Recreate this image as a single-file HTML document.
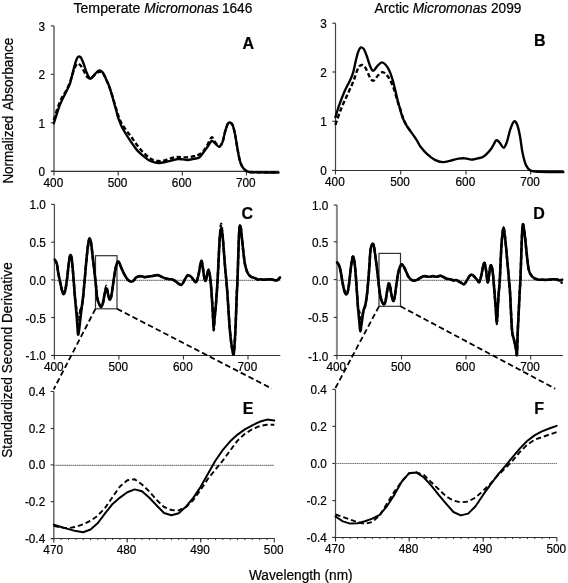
<!DOCTYPE html>
<html><head><meta charset="utf-8"><style>
html,body{margin:0;padding:0;background:#fff;}
svg{display:block;filter:grayscale(100%);}
text{font-family:"Liberation Sans", sans-serif;fill:#000;stroke:#000;stroke-width:0.2px;}
</style></head><body>
<svg width="568" height="583" viewBox="0 0 568 583">
<rect width="568" height="583" fill="#fff"/>
<line x1="54.0" y1="25.9" x2="54.0" y2="171.7" stroke="#8a8a8a" stroke-width="2"/>
<line x1="50.8" y1="25.9" x2="54.0" y2="25.9" stroke="#333" stroke-width="1.1" />
<text transform="translate(45.00,30.90) scale(1,1.1)" font-size="11.8" text-anchor="end" font-weight="normal" >3</text>
<line x1="50.8" y1="74.3" x2="54.0" y2="74.3" stroke="#333" stroke-width="1.1" />
<text transform="translate(45.00,79.30) scale(1,1.1)" font-size="11.8" text-anchor="end" font-weight="normal" >2</text>
<line x1="50.8" y1="122.7" x2="54.0" y2="122.7" stroke="#333" stroke-width="1.1" />
<text transform="translate(45.00,127.70) scale(1,1.1)" font-size="11.8" text-anchor="end" font-weight="normal" >1</text>
<line x1="50.8" y1="171.2" x2="54.0" y2="171.2" stroke="#333" stroke-width="1.1" />
<text transform="translate(45.00,176.20) scale(1,1.1)" font-size="11.8" text-anchor="end" font-weight="normal" >0</text>
<line x1="51.0" y1="171.4" x2="278.7" y2="171.4" stroke="#333" stroke-width="1.15" />
<line x1="54.0" y1="171.4" x2="54.0" y2="175.4" stroke="#333" stroke-width="1.1"/>
<text transform="translate(53.40,187.00) scale(1,1.1)" font-size="11.8" text-anchor="middle" font-weight="normal" >400</text>
<line x1="118.2" y1="171.4" x2="118.2" y2="175.4" stroke="#333" stroke-width="1.1"/>
<text transform="translate(117.60,187.00) scale(1,1.1)" font-size="11.8" text-anchor="middle" font-weight="normal" >500</text>
<line x1="182.3" y1="171.4" x2="182.3" y2="175.4" stroke="#333" stroke-width="1.1"/>
<text transform="translate(181.70,187.00) scale(1,1.1)" font-size="11.8" text-anchor="middle" font-weight="normal" >600</text>
<line x1="246.4" y1="171.4" x2="246.4" y2="175.4" stroke="#333" stroke-width="1.1"/>
<text transform="translate(245.80,187.00) scale(1,1.1)" font-size="11.8" text-anchor="middle" font-weight="normal" >700</text>
<line x1="335.5" y1="23.2" x2="335.5" y2="170.9" stroke="#444" stroke-width="1.2"/>
<line x1="332.3" y1="23.2" x2="335.5" y2="23.2" stroke="#333" stroke-width="1.1" />
<text transform="translate(326.90,28.20) scale(1,1.1)" font-size="11.8" text-anchor="end" font-weight="normal" >3</text>
<line x1="332.3" y1="72.0" x2="335.5" y2="72.0" stroke="#333" stroke-width="1.1" />
<text transform="translate(326.90,77.00) scale(1,1.1)" font-size="11.8" text-anchor="end" font-weight="normal" >2</text>
<line x1="332.3" y1="121.3" x2="335.5" y2="121.3" stroke="#333" stroke-width="1.1" />
<text transform="translate(326.90,126.30) scale(1,1.1)" font-size="11.8" text-anchor="end" font-weight="normal" >1</text>
<line x1="332.3" y1="170.4" x2="335.5" y2="170.4" stroke="#333" stroke-width="1.1" />
<text transform="translate(326.90,175.40) scale(1,1.1)" font-size="11.8" text-anchor="end" font-weight="normal" >0</text>
<line x1="332.5" y1="170.45" x2="563.6" y2="170.45" stroke="#333" stroke-width="1.15" />
<line x1="335.5" y1="170.45" x2="335.5" y2="174.45" stroke="#333" stroke-width="1.1"/>
<text transform="translate(334.90,186.20) scale(1,1.1)" font-size="11.8" text-anchor="middle" font-weight="normal" >400</text>
<line x1="400.7" y1="170.45" x2="400.7" y2="174.45" stroke="#333" stroke-width="1.1"/>
<text transform="translate(400.10,186.20) scale(1,1.1)" font-size="11.8" text-anchor="middle" font-weight="normal" >500</text>
<line x1="466.0" y1="170.45" x2="466.0" y2="174.45" stroke="#333" stroke-width="1.1"/>
<text transform="translate(465.40,186.20) scale(1,1.1)" font-size="11.8" text-anchor="middle" font-weight="normal" >600</text>
<line x1="530.7" y1="170.45" x2="530.7" y2="174.45" stroke="#333" stroke-width="1.1"/>
<text transform="translate(530.10,186.20) scale(1,1.1)" font-size="11.8" text-anchor="middle" font-weight="normal" >700</text>
<line x1="54.4" y1="204.4" x2="54.4" y2="355.9" stroke="#505050" stroke-width="1.3"/>
<line x1="51.199999999999996" y1="204.4" x2="54.4" y2="204.4" stroke="#333" stroke-width="1.1" />
<text transform="translate(45.80,209.40) scale(1,1.1)" font-size="11.8" text-anchor="end" font-weight="normal" >1.0</text>
<line x1="51.199999999999996" y1="242.2" x2="54.4" y2="242.2" stroke="#333" stroke-width="1.1" />
<text transform="translate(45.80,247.20) scale(1,1.1)" font-size="11.8" text-anchor="end" font-weight="normal" >0.5</text>
<line x1="51.199999999999996" y1="279.9" x2="54.4" y2="279.9" stroke="#333" stroke-width="1.1" />
<text transform="translate(45.80,284.90) scale(1,1.1)" font-size="11.8" text-anchor="end" font-weight="normal" >0.0</text>
<line x1="51.199999999999996" y1="317.5" x2="54.4" y2="317.5" stroke="#333" stroke-width="1.1" />
<text transform="translate(45.80,322.50) scale(1,1.1)" font-size="11.8" text-anchor="end" font-weight="normal" >-0.5</text>
<line x1="51.199999999999996" y1="355.4" x2="54.4" y2="355.4" stroke="#333" stroke-width="1.1" />
<text transform="translate(45.80,360.40) scale(1,1.1)" font-size="11.8" text-anchor="end" font-weight="normal" >-1.0</text>
<line x1="51.4" y1="355.5" x2="280.3" y2="355.5" stroke="#333" stroke-width="1.15" />
<line x1="54.4" y1="355.5" x2="54.4" y2="359.5" stroke="#333" stroke-width="1.1"/>
<text transform="translate(53.80,371.30) scale(1,1.1)" font-size="11.8" text-anchor="middle" font-weight="normal" >400</text>
<line x1="118.9" y1="355.5" x2="118.9" y2="359.5" stroke="#333" stroke-width="1.1"/>
<text transform="translate(118.30,371.30) scale(1,1.1)" font-size="11.8" text-anchor="middle" font-weight="normal" >500</text>
<line x1="183.5" y1="355.5" x2="183.5" y2="359.5" stroke="#333" stroke-width="1.1"/>
<text transform="translate(182.90,371.30) scale(1,1.1)" font-size="11.8" text-anchor="middle" font-weight="normal" >600</text>
<line x1="248.0" y1="355.5" x2="248.0" y2="359.5" stroke="#333" stroke-width="1.1"/>
<text transform="translate(247.40,371.30) scale(1,1.1)" font-size="11.8" text-anchor="middle" font-weight="normal" >700</text>
<line x1="54.4" y1="280.4" x2="280.3" y2="280.4" stroke="#7a7a7a" stroke-width="1.1" stroke-dasharray="1.6 0.5"/>
<line x1="336.9" y1="205.0" x2="336.9" y2="356.0" stroke="#888" stroke-width="2"/>
<line x1="333.7" y1="205.0" x2="336.9" y2="205.0" stroke="#333" stroke-width="1.1" />
<text transform="translate(328.30,210.00) scale(1,1.1)" font-size="11.8" text-anchor="end" font-weight="normal" >1.0</text>
<line x1="333.7" y1="241.8" x2="336.9" y2="241.8" stroke="#333" stroke-width="1.1" />
<text transform="translate(328.30,246.80) scale(1,1.1)" font-size="11.8" text-anchor="end" font-weight="normal" >0.5</text>
<line x1="333.7" y1="279.6" x2="336.9" y2="279.6" stroke="#333" stroke-width="1.1" />
<text transform="translate(328.30,284.60) scale(1,1.1)" font-size="11.8" text-anchor="end" font-weight="normal" >0.0</text>
<line x1="333.7" y1="317.4" x2="336.9" y2="317.4" stroke="#333" stroke-width="1.1" />
<text transform="translate(328.30,322.40) scale(1,1.1)" font-size="11.8" text-anchor="end" font-weight="normal" >-0.5</text>
<line x1="333.7" y1="355.5" x2="336.9" y2="355.5" stroke="#333" stroke-width="1.1" />
<text transform="translate(328.30,360.50) scale(1,1.1)" font-size="11.8" text-anchor="end" font-weight="normal" >-1.0</text>
<line x1="333.9" y1="355.5" x2="563.0" y2="355.5" stroke="#333" stroke-width="1.15" />
<line x1="336.9" y1="355.5" x2="336.9" y2="359.5" stroke="#333" stroke-width="1.1"/>
<text transform="translate(336.30,371.30) scale(1,1.1)" font-size="11.8" text-anchor="middle" font-weight="normal" >400</text>
<line x1="401.5" y1="355.5" x2="401.5" y2="359.5" stroke="#333" stroke-width="1.1"/>
<text transform="translate(400.90,371.30) scale(1,1.1)" font-size="11.8" text-anchor="middle" font-weight="normal" >500</text>
<line x1="466.0" y1="355.5" x2="466.0" y2="359.5" stroke="#333" stroke-width="1.1"/>
<text transform="translate(465.40,371.30) scale(1,1.1)" font-size="11.8" text-anchor="middle" font-weight="normal" >600</text>
<line x1="530.7" y1="355.5" x2="530.7" y2="359.5" stroke="#333" stroke-width="1.1"/>
<text transform="translate(530.10,371.30) scale(1,1.1)" font-size="11.8" text-anchor="middle" font-weight="normal" >700</text>
<line x1="336.9" y1="280.4" x2="563.0" y2="280.4" stroke="#7a7a7a" stroke-width="1.1" stroke-dasharray="1.6 0.5"/>
<line x1="53.8" y1="391.5" x2="53.8" y2="539.2" stroke="#666" stroke-width="1.5"/>
<line x1="50.599999999999994" y1="391.5" x2="53.8" y2="391.5" stroke="#333" stroke-width="1.1" />
<text transform="translate(45.20,395.80) scale(1,1.1)" font-size="11.8" text-anchor="end" font-weight="normal" >0.4</text>
<line x1="50.599999999999994" y1="428.5" x2="53.8" y2="428.5" stroke="#333" stroke-width="1.1" />
<text transform="translate(45.20,432.80) scale(1,1.1)" font-size="11.8" text-anchor="end" font-weight="normal" >0.2</text>
<line x1="50.599999999999994" y1="464.9" x2="53.8" y2="464.9" stroke="#333" stroke-width="1.1" />
<text transform="translate(45.20,469.20) scale(1,1.1)" font-size="11.8" text-anchor="end" font-weight="normal" >0.0</text>
<line x1="50.599999999999994" y1="501.7" x2="53.8" y2="501.7" stroke="#333" stroke-width="1.1" />
<text transform="translate(45.20,506.00) scale(1,1.1)" font-size="11.8" text-anchor="end" font-weight="normal" >-0.2</text>
<line x1="50.599999999999994" y1="538.7" x2="53.8" y2="538.7" stroke="#333" stroke-width="1.1" />
<text transform="translate(45.20,543.00) scale(1,1.1)" font-size="11.8" text-anchor="end" font-weight="normal" >-0.4</text>
<line x1="51" y1="538.5" x2="274.5" y2="538.5" stroke="#333" stroke-width="1.15" />
<line x1="53.8" y1="538.5" x2="53.8" y2="542.5" stroke="#333" stroke-width="1.1"/>
<text transform="translate(53.20,554.20) scale(1,1.1)" font-size="11.8" text-anchor="middle" font-weight="normal" >470</text>
<line x1="127.2" y1="538.5" x2="127.2" y2="542.5" stroke="#333" stroke-width="1.1"/>
<text transform="translate(126.60,554.20) scale(1,1.1)" font-size="11.8" text-anchor="middle" font-weight="normal" >480</text>
<line x1="200.7" y1="538.5" x2="200.7" y2="542.5" stroke="#333" stroke-width="1.1"/>
<text transform="translate(200.10,554.20) scale(1,1.1)" font-size="11.8" text-anchor="middle" font-weight="normal" >490</text>
<line x1="274.3" y1="538.5" x2="274.3" y2="542.5" stroke="#333" stroke-width="1.1"/>
<text transform="translate(273.70,554.20) scale(1,1.1)" font-size="11.8" text-anchor="middle" font-weight="normal" >500</text>
<line x1="61.15" y1="538.5" x2="61.15" y2="540.1" stroke="#333" stroke-width="1"/>
<line x1="68.50" y1="538.5" x2="68.50" y2="540.1" stroke="#333" stroke-width="1"/>
<line x1="75.85" y1="538.5" x2="75.85" y2="540.1" stroke="#333" stroke-width="1"/>
<line x1="83.20" y1="538.5" x2="83.20" y2="540.1" stroke="#333" stroke-width="1"/>
<line x1="90.55" y1="538.5" x2="90.55" y2="540.1" stroke="#333" stroke-width="1"/>
<line x1="97.90" y1="538.5" x2="97.90" y2="540.1" stroke="#333" stroke-width="1"/>
<line x1="105.25" y1="538.5" x2="105.25" y2="540.1" stroke="#333" stroke-width="1"/>
<line x1="112.60" y1="538.5" x2="112.60" y2="540.1" stroke="#333" stroke-width="1"/>
<line x1="119.95" y1="538.5" x2="119.95" y2="540.1" stroke="#333" stroke-width="1"/>
<line x1="127.30" y1="538.5" x2="127.30" y2="540.1" stroke="#333" stroke-width="1"/>
<line x1="134.65" y1="538.5" x2="134.65" y2="540.1" stroke="#333" stroke-width="1"/>
<line x1="142.00" y1="538.5" x2="142.00" y2="540.1" stroke="#333" stroke-width="1"/>
<line x1="149.35" y1="538.5" x2="149.35" y2="540.1" stroke="#333" stroke-width="1"/>
<line x1="156.70" y1="538.5" x2="156.70" y2="540.1" stroke="#333" stroke-width="1"/>
<line x1="164.05" y1="538.5" x2="164.05" y2="540.1" stroke="#333" stroke-width="1"/>
<line x1="171.40" y1="538.5" x2="171.40" y2="540.1" stroke="#333" stroke-width="1"/>
<line x1="178.75" y1="538.5" x2="178.75" y2="540.1" stroke="#333" stroke-width="1"/>
<line x1="186.10" y1="538.5" x2="186.10" y2="540.1" stroke="#333" stroke-width="1"/>
<line x1="193.45" y1="538.5" x2="193.45" y2="540.1" stroke="#333" stroke-width="1"/>
<line x1="200.80" y1="538.5" x2="200.80" y2="540.1" stroke="#333" stroke-width="1"/>
<line x1="208.15" y1="538.5" x2="208.15" y2="540.1" stroke="#333" stroke-width="1"/>
<line x1="215.50" y1="538.5" x2="215.50" y2="540.1" stroke="#333" stroke-width="1"/>
<line x1="222.85" y1="538.5" x2="222.85" y2="540.1" stroke="#333" stroke-width="1"/>
<line x1="230.20" y1="538.5" x2="230.20" y2="540.1" stroke="#333" stroke-width="1"/>
<line x1="237.55" y1="538.5" x2="237.55" y2="540.1" stroke="#333" stroke-width="1"/>
<line x1="244.90" y1="538.5" x2="244.90" y2="540.1" stroke="#333" stroke-width="1"/>
<line x1="252.25" y1="538.5" x2="252.25" y2="540.1" stroke="#333" stroke-width="1"/>
<line x1="259.60" y1="538.5" x2="259.60" y2="540.1" stroke="#333" stroke-width="1"/>
<line x1="266.95" y1="538.5" x2="266.95" y2="540.1" stroke="#333" stroke-width="1"/>
<line x1="53.8" y1="465.4" x2="274.3" y2="465.4" stroke="#7a7a7a" stroke-width="1.1" stroke-dasharray="1.6 0.5"/>
<line x1="335.5" y1="389.4" x2="335.5" y2="537.9" stroke="#4a4a4a" stroke-width="1.2"/>
<line x1="332.3" y1="389.4" x2="335.5" y2="389.4" stroke="#333" stroke-width="1.1" />
<text transform="translate(326.90,393.70) scale(1,1.1)" font-size="11.8" text-anchor="end" font-weight="normal" >0.4</text>
<line x1="332.3" y1="426.3" x2="335.5" y2="426.3" stroke="#333" stroke-width="1.1" />
<text transform="translate(326.90,430.60) scale(1,1.1)" font-size="11.8" text-anchor="end" font-weight="normal" >0.2</text>
<line x1="332.3" y1="463.5" x2="335.5" y2="463.5" stroke="#333" stroke-width="1.1" />
<text transform="translate(326.90,467.80) scale(1,1.1)" font-size="11.8" text-anchor="end" font-weight="normal" >0.0</text>
<line x1="332.3" y1="500.6" x2="335.5" y2="500.6" stroke="#333" stroke-width="1.1" />
<text transform="translate(326.90,504.90) scale(1,1.1)" font-size="11.8" text-anchor="end" font-weight="normal" >-0.2</text>
<line x1="332.3" y1="537.4" x2="335.5" y2="537.4" stroke="#333" stroke-width="1.1" />
<text transform="translate(326.90,541.70) scale(1,1.1)" font-size="11.8" text-anchor="end" font-weight="normal" >-0.4</text>
<line x1="332.5" y1="537.5" x2="557.0" y2="537.5" stroke="#333" stroke-width="1.15" />
<line x1="335.5" y1="537.5" x2="335.5" y2="541.5" stroke="#333" stroke-width="1.1"/>
<text transform="translate(334.90,553.20) scale(1,1.1)" font-size="11.8" text-anchor="middle" font-weight="normal" >470</text>
<line x1="409.2" y1="537.5" x2="409.2" y2="541.5" stroke="#333" stroke-width="1.1"/>
<text transform="translate(408.60,553.20) scale(1,1.1)" font-size="11.8" text-anchor="middle" font-weight="normal" >480</text>
<line x1="483.2" y1="537.5" x2="483.2" y2="541.5" stroke="#333" stroke-width="1.1"/>
<text transform="translate(482.60,553.20) scale(1,1.1)" font-size="11.8" text-anchor="middle" font-weight="normal" >490</text>
<line x1="556.9" y1="537.5" x2="556.9" y2="541.5" stroke="#333" stroke-width="1.1"/>
<text transform="translate(556.30,553.20) scale(1,1.1)" font-size="11.8" text-anchor="middle" font-weight="normal" >500</text>
<line x1="342.88" y1="537.5" x2="342.88" y2="539.1" stroke="#333" stroke-width="1"/>
<line x1="350.26" y1="537.5" x2="350.26" y2="539.1" stroke="#333" stroke-width="1"/>
<line x1="357.64" y1="537.5" x2="357.64" y2="539.1" stroke="#333" stroke-width="1"/>
<line x1="365.02" y1="537.5" x2="365.02" y2="539.1" stroke="#333" stroke-width="1"/>
<line x1="372.40" y1="537.5" x2="372.40" y2="539.1" stroke="#333" stroke-width="1"/>
<line x1="379.78" y1="537.5" x2="379.78" y2="539.1" stroke="#333" stroke-width="1"/>
<line x1="387.16" y1="537.5" x2="387.16" y2="539.1" stroke="#333" stroke-width="1"/>
<line x1="394.54" y1="537.5" x2="394.54" y2="539.1" stroke="#333" stroke-width="1"/>
<line x1="401.92" y1="537.5" x2="401.92" y2="539.1" stroke="#333" stroke-width="1"/>
<line x1="409.30" y1="537.5" x2="409.30" y2="539.1" stroke="#333" stroke-width="1"/>
<line x1="416.68" y1="537.5" x2="416.68" y2="539.1" stroke="#333" stroke-width="1"/>
<line x1="424.06" y1="537.5" x2="424.06" y2="539.1" stroke="#333" stroke-width="1"/>
<line x1="431.44" y1="537.5" x2="431.44" y2="539.1" stroke="#333" stroke-width="1"/>
<line x1="438.82" y1="537.5" x2="438.82" y2="539.1" stroke="#333" stroke-width="1"/>
<line x1="446.20" y1="537.5" x2="446.20" y2="539.1" stroke="#333" stroke-width="1"/>
<line x1="453.58" y1="537.5" x2="453.58" y2="539.1" stroke="#333" stroke-width="1"/>
<line x1="460.96" y1="537.5" x2="460.96" y2="539.1" stroke="#333" stroke-width="1"/>
<line x1="468.34" y1="537.5" x2="468.34" y2="539.1" stroke="#333" stroke-width="1"/>
<line x1="475.72" y1="537.5" x2="475.72" y2="539.1" stroke="#333" stroke-width="1"/>
<line x1="483.10" y1="537.5" x2="483.10" y2="539.1" stroke="#333" stroke-width="1"/>
<line x1="490.48" y1="537.5" x2="490.48" y2="539.1" stroke="#333" stroke-width="1"/>
<line x1="497.86" y1="537.5" x2="497.86" y2="539.1" stroke="#333" stroke-width="1"/>
<line x1="505.24" y1="537.5" x2="505.24" y2="539.1" stroke="#333" stroke-width="1"/>
<line x1="512.62" y1="537.5" x2="512.62" y2="539.1" stroke="#333" stroke-width="1"/>
<line x1="520.00" y1="537.5" x2="520.00" y2="539.1" stroke="#333" stroke-width="1"/>
<line x1="527.38" y1="537.5" x2="527.38" y2="539.1" stroke="#333" stroke-width="1"/>
<line x1="534.76" y1="537.5" x2="534.76" y2="539.1" stroke="#333" stroke-width="1"/>
<line x1="542.14" y1="537.5" x2="542.14" y2="539.1" stroke="#333" stroke-width="1"/>
<line x1="549.52" y1="537.5" x2="549.52" y2="539.1" stroke="#333" stroke-width="1"/>
<line x1="335.5" y1="463.5" x2="557.0" y2="463.5" stroke="#7a7a7a" stroke-width="1.1" stroke-dasharray="1.6 0.5"/>
<rect x="95.5" y="255.7" width="21.5" height="53.1" fill="none" stroke="#333" stroke-width="1.2"/>
<rect x="379.0" y="253.4" width="21.5" height="52.9" fill="none" stroke="#333" stroke-width="1.2"/>
<line x1="95.5" y1="308.8" x2="53.7" y2="389.3" stroke="#000" stroke-width="1.8" stroke-dasharray="5.6 3.1" fill="none"/>
<line x1="117" y1="308.8" x2="271.8" y2="388.6" stroke="#000" stroke-width="1.8" stroke-dasharray="5.6 3.1" fill="none"/>
<line x1="379.0" y1="306.3" x2="335.2" y2="388.4" stroke="#000" stroke-width="1.8" stroke-dasharray="5.6 3.1" fill="none"/>
<line x1="400.5" y1="306.3" x2="555.2" y2="388.7" stroke="#000" stroke-width="1.8" stroke-dasharray="5.6 3.1" fill="none"/>
<path d="M53.80,120.00 C54.08,119.08 54.77,116.80 55.50,114.50 C56.23,112.20 57.17,108.95 58.20,106.20 C59.23,103.45 60.55,100.28 61.70,98.00 C62.85,95.72 63.85,94.78 65.10,92.50 C66.35,90.22 68.07,87.03 69.20,84.30 C70.33,81.57 70.98,78.85 71.90,76.10 C72.82,73.35 73.78,69.87 74.70,67.80 C75.62,65.73 76.60,64.27 77.40,63.70 C78.20,63.13 78.70,63.72 79.50,64.40 C80.30,65.08 81.28,66.32 82.20,67.80 C83.12,69.28 84.08,71.70 85.00,73.30 C85.92,74.90 86.73,76.57 87.70,77.40 C88.67,78.23 89.57,78.78 90.80,78.30 C92.03,77.82 93.68,75.58 95.10,74.50 C96.52,73.42 98.02,72.02 99.30,71.80 C100.58,71.58 101.63,71.92 102.80,73.20 C103.97,74.48 104.97,76.53 106.30,79.50 C107.63,82.47 109.37,86.83 110.80,91.00 C112.23,95.17 113.77,100.75 114.90,104.50 C116.03,108.25 116.63,110.65 117.60,113.50 C118.57,116.35 119.37,118.93 120.70,121.60 C122.03,124.27 123.83,126.93 125.60,129.50 C127.37,132.07 129.47,134.50 131.30,137.00 C133.13,139.50 134.77,142.08 136.60,144.50 C138.43,146.92 140.32,149.37 142.30,151.50 C144.28,153.63 146.73,155.90 148.50,157.30 C150.27,158.70 151.30,159.28 152.90,159.90 C154.50,160.52 156.35,160.85 158.10,161.00 C159.85,161.15 161.42,161.22 163.40,160.80 C165.38,160.38 167.80,159.15 170.00,158.50 C172.20,157.85 174.18,157.08 176.60,156.90 C179.02,156.72 181.60,157.50 184.50,157.40 C187.40,157.30 191.63,156.75 194.00,156.30 C196.37,155.85 197.13,155.58 198.70,154.70 C200.27,153.82 201.92,152.70 203.40,151.00 C204.88,149.30 206.22,146.78 207.60,144.50 C208.98,142.22 210.45,137.68 211.70,137.30 C212.95,136.92 213.83,140.70 215.10,142.20 C216.37,143.70 218.05,146.37 219.30,146.30 C220.55,146.23 221.63,144.23 222.60,141.80 C223.57,139.37 224.27,134.63 225.10,131.70 C225.93,128.77 226.85,125.73 227.60,124.20 C228.35,122.67 228.77,122.37 229.60,122.50 C230.43,122.63 231.67,122.90 232.60,125.00 C233.53,127.10 234.35,130.92 235.20,135.10 C236.05,139.28 236.87,145.65 237.70,150.10 C238.53,154.55 239.23,158.73 240.20,161.80 C241.17,164.87 242.12,166.85 243.50,168.50 C244.88,170.15 246.27,171.08 248.50,171.70 C250.73,172.32 251.88,172.10 256.90,172.20 C261.92,172.30 274.98,172.28 278.60,172.30" fill="none" stroke="#000" stroke-width="2.4" stroke-dasharray="4.5 2.5" stroke-linejoin="round"/>
<path d="M53.80,123.40 C54.20,122.13 55.35,118.43 56.20,115.80 C57.05,113.17 57.98,110.10 58.90,107.60 C59.82,105.10 60.67,103.08 61.70,100.80 C62.73,98.52 63.97,96.20 65.10,93.90 C66.23,91.60 67.58,89.05 68.50,87.00 C69.42,84.95 69.92,83.88 70.60,81.60 C71.28,79.32 71.92,76.05 72.60,73.30 C73.28,70.55 74.02,67.50 74.70,65.10 C75.38,62.70 76.07,60.32 76.70,58.90 C77.33,57.48 77.80,56.83 78.50,56.60 C79.20,56.37 80.05,56.32 80.90,57.50 C81.75,58.68 82.68,61.30 83.60,63.70 C84.52,66.10 85.48,69.62 86.40,71.90 C87.32,74.18 88.33,76.28 89.10,77.40 C89.87,78.52 90.00,79.18 91.00,78.60 C92.00,78.02 93.72,75.27 95.10,73.90 C96.48,72.53 98.02,70.63 99.30,70.40 C100.58,70.17 101.65,70.98 102.80,72.50 C103.95,74.02 105.22,77.40 106.20,79.50 C107.18,81.60 107.93,83.13 108.70,85.10 C109.47,87.07 110.10,89.07 110.80,91.30 C111.50,93.53 112.22,96.10 112.90,98.50 C113.58,100.90 114.30,103.55 114.90,105.70 C115.50,107.85 116.05,109.70 116.50,111.40 C116.95,113.10 117.12,114.27 117.60,115.90 C118.08,117.53 118.67,119.30 119.40,121.20 C120.13,123.10 120.97,125.25 122.00,127.30 C123.03,129.35 124.35,131.45 125.60,133.50 C126.85,135.55 128.18,137.62 129.50,139.60 C130.82,141.58 132.10,143.48 133.50,145.40 C134.90,147.32 136.28,149.35 137.90,151.10 C139.52,152.85 141.43,154.43 143.20,155.90 C144.97,157.37 146.75,158.87 148.50,159.90 C150.25,160.93 151.95,161.58 153.70,162.10 C155.45,162.62 157.12,163.00 159.00,163.00 C160.88,163.00 162.60,162.60 165.00,162.10 C167.40,161.60 171.22,160.52 173.40,160.00 C175.58,159.48 176.52,159.10 178.10,159.00 C179.68,158.90 181.30,159.23 182.90,159.40 C184.50,159.57 185.85,160.10 187.70,160.00 C189.55,159.90 192.08,159.22 194.00,158.80 C195.92,158.38 197.63,158.53 199.20,157.50 C200.77,156.47 202.00,154.38 203.40,152.60 C204.80,150.82 206.22,148.75 207.60,146.80 C208.98,144.85 210.45,141.47 211.70,140.90 C212.95,140.33 213.83,142.42 215.10,143.40 C216.37,144.38 218.05,147.07 219.30,146.80 C220.55,146.53 221.63,144.32 222.60,141.80 C223.57,139.28 224.27,134.63 225.10,131.70 C225.93,128.77 226.85,125.73 227.60,124.20 C228.35,122.67 228.77,122.37 229.60,122.50 C230.43,122.63 231.67,122.90 232.60,125.00 C233.53,127.10 234.35,130.92 235.20,135.10 C236.05,139.28 236.87,145.65 237.70,150.10 C238.53,154.55 239.23,158.73 240.20,161.80 C241.17,164.87 242.12,166.82 243.50,168.50 C244.88,170.18 246.27,171.25 248.50,171.90 C250.73,172.55 251.88,172.28 256.90,172.40 C261.92,172.52 274.98,172.57 278.60,172.60" fill="none" stroke="#000" stroke-width="2.35" stroke-linejoin="round" stroke-linecap="round"/>
<path d="M335.40,124.90 C336.30,122.33 338.87,114.38 340.80,109.50 C342.73,104.62 344.93,100.23 347.00,95.60 C349.07,90.97 351.53,85.82 353.20,81.70 C354.87,77.58 355.98,73.47 357.00,70.90 C358.02,68.33 358.40,67.28 359.30,66.30 C360.20,65.32 361.37,64.75 362.40,65.00 C363.43,65.25 364.33,65.92 365.50,67.80 C366.67,69.68 368.12,74.12 369.40,76.30 C370.68,78.48 371.78,81.03 373.20,80.90 C374.62,80.77 376.35,76.97 377.90,75.50 C379.45,74.03 381.08,72.23 382.50,72.10 C383.92,71.97 385.12,73.35 386.40,74.70 C387.68,76.05 388.92,77.75 390.20,80.20 C391.48,82.65 392.93,86.07 394.10,89.40 C395.27,92.73 396.17,96.85 397.20,100.20 C398.23,103.55 399.42,106.78 400.30,109.50 C401.18,112.22 401.78,114.45 402.50,116.50 C403.22,118.55 403.78,120.08 404.60,121.80 C405.42,123.52 406.37,125.17 407.40,126.80 C408.43,128.43 410.23,130.80 410.80,131.60" fill="none" stroke="#000" stroke-width="2.4" stroke-dasharray="4.5 2.5" stroke-linejoin="round"/>
<path d="M335.40,117.20 C336.05,115.15 337.75,109.27 339.30,104.90 C340.85,100.53 342.90,95.12 344.70,91.00 C346.50,86.88 348.68,83.30 350.10,80.20 C351.52,77.10 352.17,76.02 353.20,72.40 C354.23,68.78 355.40,62.10 356.30,58.50 C357.20,54.90 357.83,52.65 358.60,50.80 C359.37,48.95 360.00,47.65 360.90,47.40 C361.80,47.15 362.97,47.70 364.00,49.30 C365.03,50.90 366.07,54.17 367.10,57.00 C368.13,59.83 369.18,63.98 370.20,66.30 C371.22,68.62 372.05,70.90 373.20,70.90 C374.35,70.90 375.68,67.72 377.10,66.30 C378.52,64.88 380.28,62.67 381.70,62.40 C383.12,62.13 384.30,63.28 385.60,64.70 C386.90,66.12 388.32,68.35 389.50,70.90 C390.68,73.45 391.73,76.77 392.70,80.00 C393.67,83.23 394.47,86.87 395.30,90.30 C396.13,93.73 397.00,97.83 397.70,100.60 C398.40,103.37 398.98,105.05 399.50,106.90 C400.02,108.75 400.30,109.98 400.80,111.70 C401.30,113.42 401.87,115.48 402.50,117.20 C403.13,118.92 403.78,120.40 404.60,122.00 C405.42,123.60 406.37,125.20 407.40,126.80 C408.43,128.40 409.67,130.00 410.80,131.60 C411.93,133.20 413.13,134.83 414.20,136.40 C415.27,137.97 416.13,139.27 417.20,141.00 C418.27,142.73 418.98,144.65 420.60,146.80 C422.22,148.95 424.52,151.72 426.90,153.90 C429.28,156.08 432.25,158.53 434.90,159.90 C437.55,161.27 440.17,161.97 442.80,162.10 C445.43,162.23 448.07,161.28 450.70,160.70 C453.33,160.12 456.22,159.00 458.60,158.60 C460.98,158.20 462.88,158.13 465.00,158.30 C467.12,158.47 469.18,159.60 471.30,159.60 C473.42,159.60 475.85,158.68 477.70,158.30 C479.55,157.92 480.93,157.98 482.40,157.30 C483.87,156.62 485.00,155.67 486.50,154.20 C488.00,152.73 489.77,150.82 491.40,148.50 C493.03,146.18 494.93,141.27 496.30,140.30 C497.67,139.33 498.37,141.47 499.60,142.70 C500.83,143.93 502.48,147.83 503.70,147.70 C504.92,147.57 505.82,144.92 506.90,141.90 C507.98,138.88 509.02,133.00 510.20,129.60 C511.38,126.20 512.83,122.32 514.00,121.50 C515.17,120.68 516.20,122.25 517.20,124.70 C518.20,127.15 519.12,131.55 520.00,136.20 C520.88,140.85 521.53,147.83 522.50,152.60 C523.47,157.37 524.43,161.80 525.80,164.80 C527.17,167.80 528.25,169.42 530.70,170.60 C533.15,171.78 535.05,171.63 540.50,171.90 C545.95,172.17 559.58,172.15 563.40,172.20" fill="none" stroke="#000" stroke-width="2.35" stroke-linejoin="round" stroke-linecap="round"/>
<path d="M54.80,259.70 C55.15,260.42 56.33,261.85 56.90,264.00 C57.47,266.15 57.63,269.45 58.20,272.60 C58.77,275.75 59.62,279.75 60.30,282.90 C60.98,286.05 61.73,289.65 62.30,291.50 C62.87,293.35 63.18,294.30 63.70,294.00 C64.22,293.70 64.82,292.42 65.40,289.70 C65.98,286.98 66.62,282.27 67.20,277.70 C67.78,273.13 68.40,266.02 68.90,262.30 C69.40,258.58 69.75,256.12 70.20,255.40 C70.65,254.68 71.10,254.85 71.60,258.00 C72.10,261.15 72.65,267.87 73.20,274.30 C73.75,280.73 74.37,290.82 74.90,296.60 C75.43,302.38 75.95,305.52 76.40,309.00 C76.85,312.48 77.22,315.75 77.60,317.50 C77.98,319.25 78.35,319.92 78.70,319.50 C79.05,319.08 79.35,317.08 79.70,315.00 C80.05,312.92 80.50,308.00 80.80,307.00 C81.10,306.00 81.10,310.83 81.50,309.00 C81.90,307.17 82.62,301.50 83.20,296.00 C83.78,290.50 84.40,282.67 85.00,276.00 C85.60,269.33 86.25,261.42 86.80,256.00 C87.35,250.58 87.87,246.42 88.30,243.50 C88.73,240.58 88.95,238.67 89.40,238.50 C89.85,238.33 90.42,239.17 91.00,242.50 C91.58,245.83 92.32,253.53 92.90,258.50 C93.48,263.47 93.97,267.58 94.50,272.30 C95.03,277.02 95.65,282.53 96.10,286.80 C96.55,291.07 96.73,295.12 97.20,297.90 C97.67,300.68 98.25,302.00 98.90,303.50 C99.55,305.00 100.45,306.90 101.10,306.90 C101.75,306.90 102.23,305.55 102.80,303.50 C103.37,301.45 104.03,297.02 104.50,294.60 C104.97,292.18 105.27,290.43 105.60,289.00 C105.93,287.57 106.18,285.75 106.50,286.00 C106.82,286.25 107.08,288.52 107.50,290.50 C107.92,292.48 108.57,296.38 109.00,297.90 C109.43,299.42 109.70,299.97 110.10,299.60 C110.50,299.23 110.93,298.02 111.40,295.70 C111.87,293.38 112.38,289.23 112.90,285.70 C113.42,282.17 113.95,277.85 114.50,274.50 C115.05,271.15 115.63,267.73 116.20,265.60 C116.77,263.47 117.35,262.07 117.90,261.70 C118.45,261.33 118.85,262.18 119.50,263.40 C120.15,264.62 120.90,267.00 121.80,269.00 C122.70,271.00 123.92,273.63 124.90,275.40 C125.88,277.17 126.63,278.53 127.70,279.60 C128.77,280.67 130.23,281.72 131.30,281.80 C132.37,281.88 133.28,280.85 134.10,280.10 C134.92,279.35 135.15,277.97 136.20,277.30 C137.25,276.63 139.00,276.13 140.40,276.10 C141.80,276.07 143.07,277.05 144.60,277.10 C146.13,277.15 148.07,276.62 149.60,276.40 C151.13,276.18 152.52,276.02 153.80,275.80 C155.08,275.58 156.13,275.00 157.30,275.10 C158.47,275.20 159.50,275.88 160.80,276.40 C162.10,276.92 163.68,277.73 165.10,278.20 C166.52,278.67 168.02,278.97 169.30,279.20 C170.58,279.43 171.63,279.17 172.80,279.60 C173.97,280.03 174.88,280.92 176.30,281.80 C177.72,282.68 179.88,285.27 181.30,284.90 C182.72,284.53 183.75,281.18 184.80,279.60 C185.85,278.02 186.55,275.87 187.60,275.40 C188.65,274.93 190.05,275.97 191.10,276.80 C192.15,277.63 193.03,279.53 193.90,280.40 C194.77,281.27 195.53,282.90 196.30,282.00 C197.07,281.10 197.82,277.93 198.50,275.00 C199.18,272.07 199.88,266.75 200.40,264.40 C200.92,262.05 201.22,260.52 201.60,260.90 C201.98,261.28 202.23,263.82 202.70,266.70 C203.17,269.58 203.90,275.88 204.40,278.20 C204.90,280.52 205.20,281.37 205.70,280.60 C206.20,279.83 206.93,275.40 207.40,273.60 C207.87,271.80 208.13,269.73 208.50,269.80 C208.87,269.87 209.27,272.30 209.60,274.00 C209.93,275.70 210.17,276.72 210.50,280.00 C210.83,283.28 211.27,289.13 211.60,293.70 C211.93,298.27 212.17,301.35 212.50,307.40 C212.83,313.45 213.25,328.17 213.60,330.00 C213.95,331.83 214.25,322.17 214.60,318.40 C214.95,314.63 215.35,311.52 215.70,307.40 C216.05,303.28 216.38,298.27 216.70,293.70 C217.02,289.13 217.28,285.62 217.60,280.00 C217.92,274.38 218.27,266.67 218.60,260.00 C218.93,253.33 219.27,245.50 219.60,240.00 C219.93,234.50 220.33,229.70 220.60,227.00 C220.87,224.30 221.00,223.80 221.20,223.80 C221.40,223.80 221.50,224.30 221.80,227.00 C222.10,229.70 222.58,235.00 223.00,240.00 C223.42,245.00 223.92,252.00 224.30,257.00 C224.68,262.00 224.97,266.17 225.30,270.00 C225.63,273.83 225.95,276.05 226.30,280.00 C226.65,283.95 227.07,289.13 227.40,293.70 C227.73,298.27 227.92,301.68 228.30,307.40 C228.68,313.12 229.23,322.28 229.70,328.00 C230.17,333.72 230.50,337.28 231.10,341.70 C231.70,346.12 232.73,353.82 233.30,354.50 C233.87,355.18 234.13,350.22 234.50,345.80 C234.87,341.38 235.20,334.40 235.50,328.00 C235.80,321.60 236.08,313.12 236.30,307.40 C236.52,301.68 236.60,298.27 236.80,293.70 C237.00,289.13 237.27,285.95 237.50,280.00 C237.73,274.05 237.98,264.67 238.20,258.00 C238.42,251.33 238.62,244.67 238.80,240.00 C238.98,235.33 239.12,232.42 239.30,230.00 C239.48,227.58 239.65,225.83 239.90,225.50 C240.15,225.17 240.45,225.82 240.80,228.00 C241.15,230.18 241.53,234.27 242.00,238.60 C242.47,242.93 243.08,249.63 243.60,254.00 C244.12,258.37 244.47,261.72 245.10,264.80 C245.73,267.88 246.50,270.57 247.40,272.50 C248.30,274.43 249.33,275.50 250.50,276.40 C251.67,277.30 253.12,277.38 254.40,277.90 C255.68,278.42 257.17,279.28 258.20,279.50 C259.23,279.72 259.67,279.15 260.60,279.20 C261.53,279.25 262.62,279.77 263.80,279.80 C264.98,279.83 266.38,279.47 267.70,279.40 C269.02,279.33 270.37,279.23 271.70,279.40 C273.03,279.57 274.65,280.35 275.70,280.40 C276.75,280.45 277.28,280.20 278.00,279.70 C278.72,279.20 279.67,277.78 280.00,277.40" fill="none" stroke="#000" stroke-width="2.4" stroke-dasharray="4.5 2.5" stroke-linejoin="round"/>
<path d="M54.80,259.70 C55.15,260.42 56.33,261.85 56.90,264.00 C57.47,266.15 57.63,269.45 58.20,272.60 C58.77,275.75 59.62,279.75 60.30,282.90 C60.98,286.05 61.73,289.65 62.30,291.50 C62.87,293.35 63.18,294.30 63.70,294.00 C64.22,293.70 64.82,292.42 65.40,289.70 C65.98,286.98 66.62,282.27 67.20,277.70 C67.78,273.13 68.40,266.02 68.90,262.30 C69.40,258.58 69.75,256.12 70.20,255.40 C70.65,254.68 71.10,254.85 71.60,258.00 C72.10,261.15 72.65,267.87 73.20,274.30 C73.75,280.73 74.33,289.73 74.90,296.60 C75.47,303.47 76.15,310.10 76.60,315.50 C77.05,320.90 77.32,325.83 77.60,329.00 C77.88,332.17 77.93,335.33 78.30,334.50 C78.67,333.67 79.27,328.25 79.80,324.00 C80.33,319.75 80.93,313.67 81.50,309.00 C82.07,304.33 82.62,301.50 83.20,296.00 C83.78,290.50 84.40,282.67 85.00,276.00 C85.60,269.33 86.25,261.42 86.80,256.00 C87.35,250.58 87.87,246.42 88.30,243.50 C88.73,240.58 88.95,238.67 89.40,238.50 C89.85,238.33 90.42,239.17 91.00,242.50 C91.58,245.83 92.32,253.53 92.90,258.50 C93.48,263.47 93.97,267.58 94.50,272.30 C95.03,277.02 95.65,282.53 96.10,286.80 C96.55,291.07 96.73,295.12 97.20,297.90 C97.67,300.68 98.25,302.00 98.90,303.50 C99.55,305.00 100.45,306.90 101.10,306.90 C101.75,306.90 102.23,305.55 102.80,303.50 C103.37,301.45 104.03,296.83 104.50,294.60 C104.97,292.37 105.27,291.12 105.60,290.10 C105.93,289.08 106.17,288.12 106.50,288.50 C106.83,288.88 107.18,290.83 107.60,292.40 C108.02,293.97 108.58,296.70 109.00,297.90 C109.42,299.10 109.70,299.97 110.10,299.60 C110.50,299.23 110.93,298.02 111.40,295.70 C111.87,293.38 112.38,289.23 112.90,285.70 C113.42,282.17 113.95,277.85 114.50,274.50 C115.05,271.15 115.63,267.73 116.20,265.60 C116.77,263.47 117.35,262.07 117.90,261.70 C118.45,261.33 118.85,262.18 119.50,263.40 C120.15,264.62 120.90,267.00 121.80,269.00 C122.70,271.00 123.92,273.63 124.90,275.40 C125.88,277.17 126.63,278.53 127.70,279.60 C128.77,280.67 130.23,281.72 131.30,281.80 C132.37,281.88 133.28,280.85 134.10,280.10 C134.92,279.35 135.15,277.97 136.20,277.30 C137.25,276.63 139.00,276.13 140.40,276.10 C141.80,276.07 143.07,277.05 144.60,277.10 C146.13,277.15 148.07,276.62 149.60,276.40 C151.13,276.18 152.52,276.02 153.80,275.80 C155.08,275.58 156.13,275.00 157.30,275.10 C158.47,275.20 159.50,275.88 160.80,276.40 C162.10,276.92 163.68,277.73 165.10,278.20 C166.52,278.67 168.02,278.97 169.30,279.20 C170.58,279.43 171.63,279.17 172.80,279.60 C173.97,280.03 174.88,280.92 176.30,281.80 C177.72,282.68 179.88,285.27 181.30,284.90 C182.72,284.53 183.75,281.18 184.80,279.60 C185.85,278.02 186.55,275.87 187.60,275.40 C188.65,274.93 190.05,275.97 191.10,276.80 C192.15,277.63 193.03,279.53 193.90,280.40 C194.77,281.27 195.53,282.90 196.30,282.00 C197.07,281.10 197.82,277.93 198.50,275.00 C199.18,272.07 199.88,266.75 200.40,264.40 C200.92,262.05 201.22,260.52 201.60,260.90 C201.98,261.28 202.23,263.82 202.70,266.70 C203.17,269.58 203.90,275.88 204.40,278.20 C204.90,280.52 205.20,281.37 205.70,280.60 C206.20,279.83 206.93,275.40 207.40,273.60 C207.87,271.80 208.13,269.73 208.50,269.80 C208.87,269.87 209.27,272.30 209.60,274.00 C209.93,275.70 210.17,276.72 210.50,280.00 C210.83,283.28 211.27,289.13 211.60,293.70 C211.93,298.27 212.23,303.05 212.50,307.40 C212.77,311.75 213.00,316.45 213.20,319.80 C213.40,323.15 213.47,327.73 213.70,327.50 C213.93,327.27 214.27,321.75 214.60,318.40 C214.93,315.05 215.35,311.52 215.70,307.40 C216.05,303.28 216.38,298.27 216.70,293.70 C217.02,289.13 217.28,285.62 217.60,280.00 C217.92,274.38 218.27,266.67 218.60,260.00 C218.93,253.33 219.28,244.83 219.60,240.00 C219.92,235.17 220.23,232.92 220.50,231.00 C220.77,229.08 220.95,228.50 221.20,228.50 C221.45,228.50 221.70,229.08 222.00,231.00 C222.30,232.92 222.62,235.67 223.00,240.00 C223.38,244.33 223.92,252.00 224.30,257.00 C224.68,262.00 224.97,266.17 225.30,270.00 C225.63,273.83 225.95,276.05 226.30,280.00 C226.65,283.95 227.07,289.13 227.40,293.70 C227.73,298.27 227.92,301.68 228.30,307.40 C228.68,313.12 229.23,322.28 229.70,328.00 C230.17,333.72 230.50,337.28 231.10,341.70 C231.70,346.12 232.73,353.82 233.30,354.50 C233.87,355.18 234.13,350.22 234.50,345.80 C234.87,341.38 235.20,334.40 235.50,328.00 C235.80,321.60 236.08,313.12 236.30,307.40 C236.52,301.68 236.60,298.27 236.80,293.70 C237.00,289.13 237.27,285.95 237.50,280.00 C237.73,274.05 237.98,264.67 238.20,258.00 C238.42,251.33 238.62,244.67 238.80,240.00 C238.98,235.33 239.12,232.42 239.30,230.00 C239.48,227.58 239.65,225.83 239.90,225.50 C240.15,225.17 240.45,225.82 240.80,228.00 C241.15,230.18 241.53,234.27 242.00,238.60 C242.47,242.93 243.08,249.63 243.60,254.00 C244.12,258.37 244.47,261.72 245.10,264.80 C245.73,267.88 246.50,270.57 247.40,272.50 C248.30,274.43 249.33,275.50 250.50,276.40 C251.67,277.30 253.12,277.38 254.40,277.90 C255.68,278.42 257.17,279.28 258.20,279.50 C259.23,279.72 259.67,279.15 260.60,279.20 C261.53,279.25 262.62,279.77 263.80,279.80 C264.98,279.83 266.38,279.47 267.70,279.40 C269.02,279.33 270.37,279.23 271.70,279.40 C273.03,279.57 274.65,280.35 275.70,280.40 C276.75,280.45 277.28,280.20 278.00,279.70 C278.72,279.20 279.67,277.78 280.00,277.40" fill="none" stroke="#000" stroke-width="2.6" stroke-linejoin="round" stroke-linecap="round"/>
<path d="M337.10,262.30 C337.45,262.87 338.57,263.98 339.20,265.70 C339.83,267.42 340.33,269.73 340.90,272.60 C341.47,275.47 342.03,279.90 342.60,282.90 C343.17,285.90 343.72,288.67 344.30,290.60 C344.88,292.53 345.52,294.35 346.10,294.50 C346.68,294.65 347.28,293.43 347.80,291.50 C348.32,289.57 348.68,286.92 349.20,282.90 C349.72,278.88 350.40,271.40 350.90,267.40 C351.40,263.40 351.83,260.70 352.20,258.90 C352.57,257.10 352.75,256.32 353.10,256.60 C353.45,256.88 353.87,257.65 354.30,260.60 C354.73,263.55 355.27,269.15 355.70,274.30 C356.13,279.45 356.50,285.78 356.90,291.50 C357.30,297.22 357.68,305.18 358.10,308.60 C358.52,312.02 359.00,310.52 359.40,312.00 C359.80,313.48 360.18,316.33 360.50,317.50 C360.82,318.67 361.00,319.25 361.30,319.00 C361.60,318.75 361.93,317.42 362.30,316.00 C362.67,314.58 362.98,312.37 363.50,310.50 C364.02,308.63 364.77,307.95 365.40,304.80 C366.03,301.65 366.67,297.57 367.30,291.60 C367.93,285.63 368.67,275.92 369.20,269.00 C369.73,262.08 369.97,254.25 370.50,250.10 C371.03,245.95 371.83,244.73 372.40,244.10 C372.97,243.47 373.33,243.73 373.90,246.30 C374.47,248.87 375.13,254.45 375.80,259.50 C376.47,264.55 377.33,271.80 377.90,276.60 C378.47,281.40 378.77,284.93 379.20,288.30 C379.63,291.67 380.02,294.50 380.50,296.80 C380.98,299.10 381.57,300.85 382.10,302.10 C382.63,303.35 383.17,304.30 383.70,304.30 C384.23,304.30 384.77,304.05 385.30,302.10 C385.83,300.15 386.42,295.43 386.90,292.60 C387.38,289.77 387.85,286.62 388.20,285.10 C388.55,283.58 388.68,283.32 389.00,283.50 C389.32,283.68 389.75,284.68 390.10,286.20 C390.45,287.72 390.67,290.30 391.10,292.60 C391.53,294.90 392.25,298.68 392.70,300.00 C393.15,301.32 393.43,301.22 393.80,300.50 C394.17,299.78 394.48,298.27 394.90,295.70 C395.32,293.13 395.77,288.82 396.30,285.10 C396.83,281.38 397.50,276.42 398.10,273.40 C398.70,270.38 399.28,268.50 399.90,267.00 C400.52,265.50 401.13,264.40 401.80,264.40 C402.47,264.40 403.20,265.85 403.90,267.00 C404.60,268.15 405.23,269.67 406.00,271.30 C406.77,272.93 407.50,275.33 408.50,276.80 C409.50,278.27 410.95,279.47 412.00,280.10 C413.05,280.73 413.87,280.68 414.80,280.60 C415.73,280.52 416.55,280.15 417.60,279.60 C418.65,279.05 419.93,277.88 421.10,277.30 C422.27,276.72 423.30,276.18 424.60,276.10 C425.90,276.02 427.48,276.80 428.90,276.80 C430.32,276.80 431.82,276.10 433.10,276.10 C434.38,276.10 435.43,276.85 436.60,276.80 C437.77,276.75 439.03,275.80 440.10,275.80 C441.17,275.80 441.93,276.32 443.00,276.80 C444.07,277.28 445.33,278.30 446.50,278.70 C447.67,279.10 448.83,278.92 450.00,279.20 C451.17,279.48 452.45,280.25 453.50,280.40 C454.55,280.55 455.12,279.75 456.30,280.10 C457.48,280.45 459.30,281.82 460.60,282.50 C461.90,283.18 463.05,284.55 464.10,284.20 C465.15,283.85 465.97,281.80 466.90,280.40 C467.83,279.00 468.88,276.75 469.70,275.80 C470.52,274.85 470.98,274.53 471.80,274.70 C472.62,274.87 473.65,275.85 474.60,276.80 C475.55,277.75 476.72,279.53 477.50,280.40 C478.28,281.27 478.72,282.60 479.30,282.00 C479.88,281.40 480.35,279.48 481.00,276.80 C481.65,274.12 482.60,268.18 483.20,265.90 C483.80,263.62 484.13,262.42 484.60,263.10 C485.07,263.78 485.45,266.80 486.00,270.00 C486.55,273.20 487.22,282.77 487.90,282.30 C488.58,281.83 489.50,269.93 490.10,267.20 C490.70,264.47 491.07,265.10 491.50,265.90 C491.93,266.70 492.37,269.65 492.70,272.00 C493.03,274.35 493.18,276.38 493.50,280.00 C493.82,283.62 494.23,289.13 494.60,293.70 C494.97,298.27 495.33,302.35 495.70,307.40 C496.07,312.45 496.45,324.00 496.80,324.00 C497.15,324.00 497.48,312.45 497.80,307.40 C498.12,302.35 498.37,298.27 498.70,293.70 C499.03,289.13 499.47,285.62 499.80,280.00 C500.13,274.38 500.37,266.55 500.70,260.00 C501.03,253.45 501.33,246.17 501.80,240.70 C502.27,235.23 502.90,227.20 503.50,227.20 C504.10,227.20 504.78,235.23 505.40,240.70 C506.02,246.17 506.60,253.45 507.20,260.00 C507.80,266.55 508.52,274.38 509.00,280.00 C509.48,285.62 509.75,287.98 510.10,293.70 C510.45,299.42 510.75,307.90 511.10,314.30 C511.45,320.70 511.75,327.98 512.20,332.10 C512.65,336.22 513.18,336.25 513.80,339.00 C514.42,341.75 515.38,345.93 515.90,348.60 C516.42,351.27 516.65,356.10 516.90,355.00 C517.15,353.90 517.25,346.17 517.40,342.00 C517.55,337.83 517.60,334.62 517.80,330.00 C518.00,325.38 518.30,320.35 518.60,314.30 C518.90,308.25 519.30,299.42 519.60,293.70 C519.90,287.98 520.15,285.62 520.40,280.00 C520.65,274.38 520.87,266.67 521.10,260.00 C521.33,253.33 521.52,245.95 521.80,240.00 C522.08,234.05 522.32,225.25 522.80,224.30 C523.28,223.35 524.05,229.42 524.70,234.30 C525.35,239.18 526.05,247.82 526.70,253.60 C527.35,259.38 527.87,265.40 528.60,269.00 C529.33,272.60 530.18,273.67 531.10,275.20 C532.02,276.73 532.97,277.48 534.10,278.20 C535.23,278.92 536.52,279.23 537.90,279.50 C539.28,279.77 540.77,279.75 542.40,279.80 C544.03,279.85 545.93,279.88 547.70,279.80 C549.47,279.72 551.48,279.35 553.00,279.30 C554.52,279.25 555.67,279.30 556.80,279.50 C557.93,279.70 559.10,280.17 559.80,280.50 C560.50,280.83 560.62,280.95 561.00,281.50 C561.38,282.05 561.92,283.42 562.10,283.80" fill="none" stroke="#000" stroke-width="2.4" stroke-dasharray="4.5 2.5" stroke-linejoin="round"/>
<path d="M337.10,262.30 C337.45,262.87 338.57,263.98 339.20,265.70 C339.83,267.42 340.33,269.73 340.90,272.60 C341.47,275.47 342.03,279.90 342.60,282.90 C343.17,285.90 343.72,288.67 344.30,290.60 C344.88,292.53 345.52,294.35 346.10,294.50 C346.68,294.65 347.28,293.43 347.80,291.50 C348.32,289.57 348.68,286.92 349.20,282.90 C349.72,278.88 350.40,271.40 350.90,267.40 C351.40,263.40 351.83,260.70 352.20,258.90 C352.57,257.10 352.75,256.32 353.10,256.60 C353.45,256.88 353.87,257.65 354.30,260.60 C354.73,263.55 355.27,269.15 355.70,274.30 C356.13,279.45 356.50,285.78 356.90,291.50 C357.30,297.22 357.68,303.47 358.10,308.60 C358.52,313.73 359.03,318.53 359.40,322.30 C359.77,326.07 359.93,330.97 360.30,331.20 C360.67,331.43 361.07,327.15 361.60,323.70 C362.13,320.25 362.87,313.65 363.50,310.50 C364.13,307.35 364.77,307.95 365.40,304.80 C366.03,301.65 366.67,297.57 367.30,291.60 C367.93,285.63 368.67,275.92 369.20,269.00 C369.73,262.08 369.97,254.25 370.50,250.10 C371.03,245.95 371.83,244.73 372.40,244.10 C372.97,243.47 373.33,243.73 373.90,246.30 C374.47,248.87 375.13,254.45 375.80,259.50 C376.47,264.55 377.33,271.80 377.90,276.60 C378.47,281.40 378.77,284.93 379.20,288.30 C379.63,291.67 380.02,294.50 380.50,296.80 C380.98,299.10 381.57,300.85 382.10,302.10 C382.63,303.35 383.17,304.30 383.70,304.30 C384.23,304.30 384.77,304.05 385.30,302.10 C385.83,300.15 386.42,295.43 386.90,292.60 C387.38,289.77 387.85,286.62 388.20,285.10 C388.55,283.58 388.68,283.32 389.00,283.50 C389.32,283.68 389.75,284.68 390.10,286.20 C390.45,287.72 390.67,290.30 391.10,292.60 C391.53,294.90 392.25,298.68 392.70,300.00 C393.15,301.32 393.43,301.22 393.80,300.50 C394.17,299.78 394.48,298.27 394.90,295.70 C395.32,293.13 395.77,288.82 396.30,285.10 C396.83,281.38 397.50,276.42 398.10,273.40 C398.70,270.38 399.28,268.50 399.90,267.00 C400.52,265.50 401.13,264.40 401.80,264.40 C402.47,264.40 403.20,265.85 403.90,267.00 C404.60,268.15 405.23,269.67 406.00,271.30 C406.77,272.93 407.50,275.33 408.50,276.80 C409.50,278.27 410.95,279.47 412.00,280.10 C413.05,280.73 413.87,280.68 414.80,280.60 C415.73,280.52 416.55,280.15 417.60,279.60 C418.65,279.05 419.93,277.88 421.10,277.30 C422.27,276.72 423.30,276.18 424.60,276.10 C425.90,276.02 427.48,276.80 428.90,276.80 C430.32,276.80 431.82,276.10 433.10,276.10 C434.38,276.10 435.43,276.85 436.60,276.80 C437.77,276.75 439.03,275.80 440.10,275.80 C441.17,275.80 441.93,276.32 443.00,276.80 C444.07,277.28 445.33,278.30 446.50,278.70 C447.67,279.10 448.83,278.92 450.00,279.20 C451.17,279.48 452.45,280.25 453.50,280.40 C454.55,280.55 455.12,279.75 456.30,280.10 C457.48,280.45 459.30,281.82 460.60,282.50 C461.90,283.18 463.05,284.55 464.10,284.20 C465.15,283.85 465.97,281.80 466.90,280.40 C467.83,279.00 468.88,276.75 469.70,275.80 C470.52,274.85 470.98,274.53 471.80,274.70 C472.62,274.87 473.65,275.85 474.60,276.80 C475.55,277.75 476.72,279.53 477.50,280.40 C478.28,281.27 478.72,282.60 479.30,282.00 C479.88,281.40 480.35,279.48 481.00,276.80 C481.65,274.12 482.60,268.18 483.20,265.90 C483.80,263.62 484.13,262.42 484.60,263.10 C485.07,263.78 485.45,266.80 486.00,270.00 C486.55,273.20 487.22,282.77 487.90,282.30 C488.58,281.83 489.50,269.93 490.10,267.20 C490.70,264.47 491.07,265.10 491.50,265.90 C491.93,266.70 492.37,269.65 492.70,272.00 C493.03,274.35 493.18,276.38 493.50,280.00 C493.82,283.62 494.23,289.13 494.60,293.70 C494.97,298.27 495.33,302.35 495.70,307.40 C496.07,312.45 496.45,324.00 496.80,324.00 C497.15,324.00 497.48,312.45 497.80,307.40 C498.12,302.35 498.37,298.27 498.70,293.70 C499.03,289.13 499.47,285.62 499.80,280.00 C500.13,274.38 500.37,266.55 500.70,260.00 C501.03,253.45 501.33,246.17 501.80,240.70 C502.27,235.23 502.90,227.20 503.50,227.20 C504.10,227.20 504.78,235.23 505.40,240.70 C506.02,246.17 506.60,253.45 507.20,260.00 C507.80,266.55 508.52,274.38 509.00,280.00 C509.48,285.62 509.75,287.98 510.10,293.70 C510.45,299.42 510.75,307.90 511.10,314.30 C511.45,320.70 511.75,327.98 512.20,332.10 C512.65,336.22 513.18,336.25 513.80,339.00 C514.42,341.75 515.38,345.93 515.90,348.60 C516.42,351.27 516.65,356.10 516.90,355.00 C517.15,353.90 517.25,346.17 517.40,342.00 C517.55,337.83 517.60,334.62 517.80,330.00 C518.00,325.38 518.30,320.35 518.60,314.30 C518.90,308.25 519.30,299.42 519.60,293.70 C519.90,287.98 520.15,285.62 520.40,280.00 C520.65,274.38 520.87,266.67 521.10,260.00 C521.33,253.33 521.52,245.95 521.80,240.00 C522.08,234.05 522.32,225.25 522.80,224.30 C523.28,223.35 524.05,229.42 524.70,234.30 C525.35,239.18 526.05,247.82 526.70,253.60 C527.35,259.38 527.87,265.40 528.60,269.00 C529.33,272.60 530.18,273.67 531.10,275.20 C532.02,276.73 532.97,277.48 534.10,278.20 C535.23,278.92 536.52,279.23 537.90,279.50 C539.28,279.77 540.77,279.75 542.40,279.80 C544.03,279.85 545.93,279.88 547.70,279.80 C549.47,279.72 551.48,279.35 553.00,279.30 C554.52,279.25 555.67,279.30 556.80,279.50 C557.93,279.70 558.92,280.47 559.80,280.50 C560.68,280.53 561.72,279.83 562.10,279.70" fill="none" stroke="#000" stroke-width="2.6" stroke-linejoin="round" stroke-linecap="round"/>
<path d="M53.80,525.80 L61.15,527.60 L68.50,528.20 L75.85,526.80 L83.20,524.30 L90.55,520.80 L97.90,515.60 L105.25,507.60 L112.60,497.00 L119.95,486.50 L127.30,480.30 L134.65,479.20 L142.00,484.50 L149.35,491.50 L156.70,500.00 L164.05,507.00 L171.40,510.00 L178.75,510.40 L186.10,507.10 L193.45,499.80 L200.80,489.60 L208.15,478.50 L215.50,469.50 L222.85,460.50 L230.20,450.50 L237.55,440.60 L244.90,433.80 L252.25,429.20 L259.60,426.00 L266.95,424.70 L274.30,424.70" fill="none" stroke="#000" stroke-width="1.9" stroke-dasharray="5.2 3.0" stroke-linejoin="round"/>
<path d="M53.80,524.80 L61.15,527.00 L68.50,529.10 L75.85,531.10 L83.20,532.30 L90.55,529.50 L97.90,523.00 L105.25,513.20 L112.60,503.90 L119.95,497.60 L127.30,492.30 L134.65,489.40 L142.00,491.30 L149.35,497.80 L156.70,505.50 L164.05,513.00 L171.40,515.20 L178.75,513.30 L186.10,506.50 L193.45,497.60 L200.80,486.60 L208.15,473.40 L215.50,460.50 L222.85,449.90 L230.20,441.30 L237.55,434.60 L244.90,429.40 L252.25,425.30 L259.60,421.80 L266.95,419.60 L274.30,420.50" fill="none" stroke="#000" stroke-width="2.0" stroke-linejoin="round" stroke-linecap="round"/>
<path d="M335.50,514.50 L342.87,516.90 L350.24,519.60 L357.61,522.20 L364.98,523.80 L372.35,522.00 L379.72,515.20 L387.09,503.40 L394.46,491.50 L401.83,481.30 L409.20,473.20 L416.57,472.30 L423.94,475.00 L431.31,482.30 L438.68,489.20 L446.05,496.30 L453.42,500.60 L460.79,502.30 L468.16,501.60 L475.53,497.50 L482.90,491.00 L490.27,483.80 L497.64,475.50 L505.01,468.40 L512.38,461.00 L519.75,452.20 L527.12,444.80 L534.49,439.80 L541.86,437.20 L549.23,434.60 L556.60,432.10" fill="none" stroke="#000" stroke-width="1.9" stroke-dasharray="5.2 3.0" stroke-linejoin="round"/>
<path d="M335.50,516.50 L342.87,521.40 L350.24,523.60 L357.61,523.20 L364.98,521.20 L372.35,518.60 L379.72,514.90 L387.09,506.00 L394.46,494.60 L401.83,481.50 L409.20,473.20 L416.57,472.60 L423.94,477.50 L431.31,485.60 L438.68,494.90 L446.05,503.60 L453.42,512.00 L460.79,515.40 L468.16,513.60 L475.53,506.30 L482.90,495.20 L490.27,484.80 L497.64,475.00 L505.01,466.30 L512.38,457.40 L519.75,448.60 L527.12,441.00 L534.49,435.40 L541.86,431.40 L549.23,428.50 L556.60,425.90" fill="none" stroke="#000" stroke-width="2.0" stroke-linejoin="round" stroke-linecap="round"/>
<text transform="translate(242.50,48.60) scale(1,1.0)" font-size="16" text-anchor="start" font-weight="bold" >A</text>
<text transform="translate(534.00,45.60) scale(1,1.0)" font-size="16" text-anchor="start" font-weight="bold" >B</text>
<text transform="translate(241.50,219.40) scale(1,1.0)" font-size="16" text-anchor="start" font-weight="bold" >C</text>
<text transform="translate(533.30,218.70) scale(1,1.0)" font-size="16" text-anchor="start" font-weight="bold" >D</text>
<text transform="translate(242.80,413.70) scale(1,1.0)" font-size="16" text-anchor="start" font-weight="bold" >E</text>
<text transform="translate(534.20,413.70) scale(1,1.0)" font-size="16" text-anchor="start" font-weight="bold" >F</text>
<text transform="translate(73.4,12.6) scale(1.035,1.1)" font-size="13.7" text-anchor="start">Temperate</text>
<text transform="translate(73.4,12.6) scale(1,1.1)" font-size="13.7" text-anchor="start"><tspan x="70.95" font-style="italic">Micromonas</tspan><tspan x="148.5">1646</tspan></text>
<text transform="translate(374.6,12.6) scale(1,1.1)" font-size="13.7" text-anchor="start">Arctic <tspan font-style="italic">Micromonas</tspan> 2099</text>
<text transform="translate(12.6,183.6) rotate(-90) scale(0.982,1.1)" font-size="13.7" text-anchor="start">Normalized</text>
<text transform="translate(12.6,183.7) rotate(-90) scale(1,1.1)" font-size="13.7" text-anchor="start"><tspan x="73.09">Absorbance</tspan></text>
<text transform="translate(12.4,457.8) rotate(-90) scale(1,1.1)" font-size="13.7" text-anchor="start">Standardized Second Derivative</text>
<text transform="translate(248.9,579.6) scale(1,1.1)" font-size="13.7" text-anchor="start">Wavelength (nm)</text>
</svg>
</body></html>
